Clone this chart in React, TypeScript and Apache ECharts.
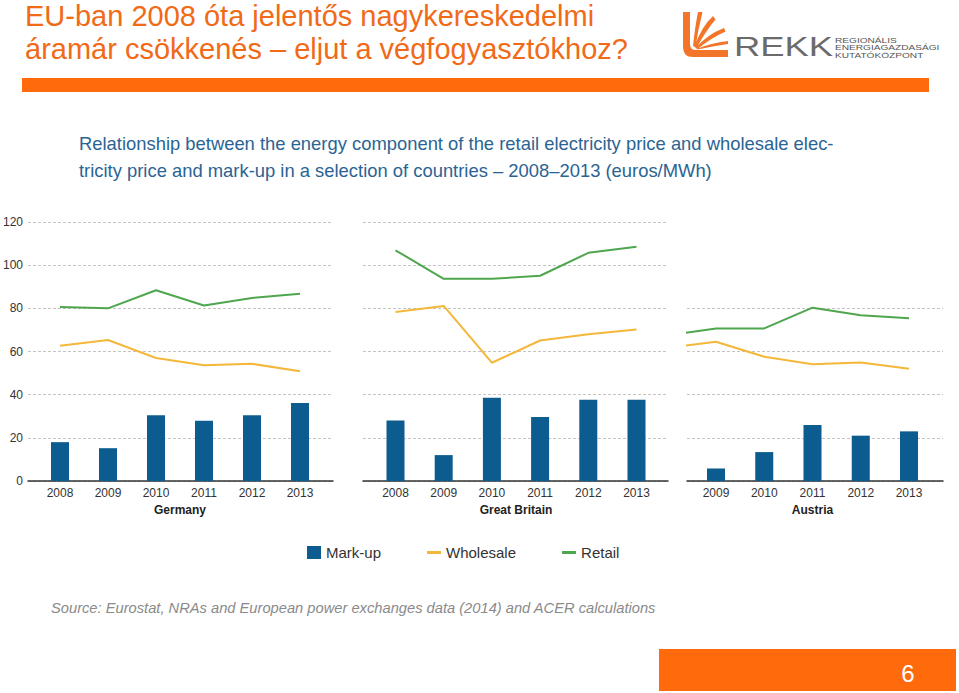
import React, { useEffect, useRef } from "react";
import * as echarts from "echarts";

// ---------- data ----------
const germanyYears = ["2008", "2009", "2010", "2011", "2012", "2013"];
const germanyMarkup = [18.0, 15.2, 30.5, 27.9, 30.5, 36.1];
const germanyWholesale = [62.7, 65.3, 57.0, 53.6, 54.3, 50.8];
const germanyRetail = [80.6, 80.0, 88.4, 81.3, 84.8, 86.8];

const gbYears = ["2008", "2009", "2010", "2011", "2012", "2013"];
const gbMarkup = [28.0, 12.0, 38.6, 29.6, 37.7, 37.7];
const gbWholesale = [78.3, 81.1, 54.8, 65.1, 68.0, 70.2];
const gbRetail = [106.9, 93.7, 93.7, 95.1, 105.7, 108.5];

const austriaYears = ["2009", "2010", "2011", "2012", "2013"];
const austriaMarkup = [5.8, 13.4, 25.9, 21.0, 23.0];
const austriaLineYears = ["2008", "2009", "2010", "2011", "2012", "2013"];
const austriaWholesale = [61.8, 64.5, 57.6, 54.1, 54.9, 52.0];
const austriaRetail = [67.4, 70.7, 70.7, 80.3, 76.8, 75.4];

const yTicks = ["0", "20", "40", "60", "80", "100", "120"];
const legendNames = ["Mark-up", "Wholesale", "Retail"];

const pageTitle1 = "EU-ban 2008 óta jelentős nagykereskedelmi";
const pageTitle2 = "áramár csökkenés – eljut a végfogyasztókhoz?";
const chartTitle1 =
  "Relationship between the energy component of the retail electricity price and wholesale elec-";
const chartTitle2 =
  "tricity price and mark-up in a selection of countries – 2008–2013 (euros/MWh)";
const sourceText =
  "Source: Eurostat, NRAs and European power exchanges data (2014) and ACER calculations";
const pageNumber = "6";
const logoWord = "REKK";
const logoLines = ["REGIONÁLIS", "ENERGIAGAZDASÁGI", "KUTATÓKÖZPONT"];

// ---------- styles / layout ----------
const COLORS = { markup: "#0d5c8f", wholesale: "#f4b73a", retail: "#4ea64e" };
const FONT = "'Liberation Sans', Arial, sans-serif";
const ORANGE = "#ff6a0d";

const PLOT_TOP = 222;
const PLOT_BOTTOM = 481;
const Y_MAX = 120;

const panels = [
  {
    name: "Germany",
    barYears: germanyYears,
    markup: germanyMarkup,
    lineYears: germanyYears,
    wholesale: germanyWholesale,
    retail: germanyRetail,
    frameL: 28, frameR: 333, firstCenter: 60, step: 48, yMax: 120, showY: true,
  },
  {
    name: "Great Britain",
    barYears: gbYears,
    markup: gbMarkup,
    lineYears: gbYears,
    wholesale: gbWholesale,
    retail: gbRetail,
    frameL: 363, frameR: 668, firstCenter: 395.5, step: 48.2, yMax: 120, showY: false,
  },
  {
    name: "Austria",
    barYears: austriaYears,
    markup: austriaMarkup,
    lineYears: austriaLineYears,
    wholesale: austriaWholesale,
    retail: austriaRetail,
    frameL: 687, frameR: 943, firstCenter: 716, step: 48.25, yMax: 80, showY: false,
  },
];

let registered = false;
function registerLogo() {
  if (registered) return;
  registered = true;
  const d =
    "M0,0 L7,0 L7,32 Q7,38 13,38 L45,38 L45,45 L10,45 Q0,45 0,35 Z " +
    "M10,34 Q12,15 15,0 L19.5,0 Q15,18 12.5,35 Z " +
    "M11.5,35 Q18,15 30,4 L32.5,7.5 Q22,20 13.5,36 Z " +
    "M12.5,36 Q25,22 41,16 L42.5,19.5 Q28,26 14.5,37 Z " +
    "M13.5,37 Q28,31 45,29 L45,32 Q30,34 14.5,37.6 Z";
  echarts.graphic.registerShape("rekklogo", echarts.graphic.extendPath(d, {}));
}

function buildOption() {
  const grid: any[] = [];
  const xAxis: any[] = [];
  const yAxis: any[] = [];
  const series: any[] = [];

  panels.forEach((p) => {
    const plotH = PLOT_BOTTOM - PLOT_TOP;
    const frameTop = PLOT_BOTTOM - (plotH * p.yMax) / Y_MAX;
    const width = p.frameR - p.frameL;
    const firstYear = Number(p.barYears[0]);
    const xMin = firstYear - (p.firstCenter - p.frameL) / p.step;
    const xMax =
      Number(p.barYears[p.barYears.length - 1]) +
      (p.frameR - (p.firstCenter + (p.barYears.length - 1) * p.step)) / p.step;

    // frame grid (gridlines, baseline, y labels)
    const fi = grid.length;
    grid.push({ left: p.frameL, width, top: frameTop, height: PLOT_BOTTOM - frameTop });
    xAxis.push({
      gridIndex: fi, type: "value", min: 0, max: 1,
      axisLine: { show: true, onZero: false, lineStyle: { color: "#333", width: 1.5 } },
      axisTick: { show: false }, axisLabel: { show: false }, splitLine: { show: false },
    });
    yAxis.push({
      gridIndex: fi, type: "value", min: 0, max: p.yMax, interval: 20,
      axisLine: { show: false }, axisTick: { show: false },
      axisLabel: {
        show: p.showY, margin: 5, color: "#333", fontSize: 12, fontFamily: FONT,
        formatter: (v: number) => yTicks[Math.round(v / 20)] ?? String(v),
      },
      splitLine: { show: true, lineStyle: { color: "#c4c4c4", type: [3, 2], width: 1 } },
    });

    // data grid
    const di = grid.length;
    grid.push({ left: p.frameL, width, top: PLOT_TOP, height: plotH });
    xAxis.push({ gridIndex: di, type: "value", min: xMin, max: xMax, show: false });
    yAxis.push({ gridIndex: di, type: "value", min: 0, max: Y_MAX, show: false });

    series.push({
      type: "bar", name: "Mark-up", xAxisIndex: di, yAxisIndex: di, barWidth: 18,
      itemStyle: { color: COLORS.markup },
      data: p.barYears.map((y, k) => [Number(y), p.markup[k]]),
    });
    series.push({
      type: "line", name: "Wholesale", xAxisIndex: di, yAxisIndex: di, symbol: "none",
      lineStyle: { color: COLORS.wholesale, width: 2 }, itemStyle: { color: COLORS.wholesale },
      data: p.lineYears.map((y, k) => [Number(y), p.wholesale[k]]),
    });
    series.push({
      type: "line", name: "Retail", xAxisIndex: di, yAxisIndex: di, symbol: "none",
      lineStyle: { color: COLORS.retail, width: 2 }, itemStyle: { color: COLORS.retail },
      data: p.lineYears.map((y, k) => [Number(y), p.retail[k]]),
    });

    // label grid (category labels + country name)
    const li = grid.length;
    grid.push({
      left: p.firstCenter - p.step / 2, width: p.step * p.barYears.length,
      top: PLOT_TOP, height: plotH,
    });
    xAxis.push({
      gridIndex: li, type: "category", data: p.barYears,
      axisLine: { show: false }, axisTick: { show: false },
      axisLabel: { margin: 6, color: "#333", fontSize: 12, fontFamily: FONT },
      name: p.name, nameLocation: "middle", nameGap: 23,
      nameTextStyle: { color: "#222", fontSize: 12, fontWeight: "bold", fontFamily: FONT },
    });
    yAxis.push({ gridIndex: li, type: "value", min: 0, max: 1, show: false });
  });

  const lineIcon = "path://M0,0 H14 V3 H0 Z";

  const graphic: any[] = [
    { type: "text", x: 25, y: 16, style: { text: pageTitle1, font: `29px ${FONT}`, fill: "#f06a18", verticalAlign: "middle" } },
    { type: "text", x: 25, y: 49, style: { text: pageTitle2, font: `29px ${FONT}`, fill: "#f06a18", verticalAlign: "middle" } },
    { type: "rect", shape: { x: 22, y: 78, width: 907, height: 14 }, style: { fill: ORANGE } },
    { type: "rekklogo", x: 683, y: 12, style: { fill: "#f2752a" } },
    { type: "text", x: 734, y: 47, scaleX: 1.3, originX: 0, originY: 0, style: { text: logoWord, font: `28px ${FONT}`, fill: "#6b6b6b", verticalAlign: "middle" } },
    ...logoLines.map((t, k) => ({
      type: "text", x: 835, y: 40 + k * 7.5, scaleX: 1.35, originX: 0, originY: 0,
      style: { text: t, font: `7.5px ${FONT}`, fill: "#555", verticalAlign: "middle" },
    })),
    { type: "text", x: 79, y: 143, style: { text: chartTitle1, font: `18.4px ${FONT}`, fill: "#2a6494", verticalAlign: "middle" } },
    { type: "text", x: 79, y: 170, style: { text: chartTitle2, font: `18.4px ${FONT}`, fill: "#2a6494", verticalAlign: "middle" } },
    { type: "text", x: 51, y: 608, style: { text: sourceText, font: `italic 14.7px ${FONT}`, fill: "#8a8a8a", verticalAlign: "middle" } },
    { type: "rect", shape: { x: 659, y: 649, width: 297, height: 42 }, style: { fill: ORANGE } },
    { type: "text", x: 908, y: 673, style: { text: pageNumber, font: `24px ${FONT}`, fill: "#fff", align: "center", verticalAlign: "middle" } },
  ];

  return {
    animation: false,
    backgroundColor: "#fff",
    grid,
    xAxis,
    yAxis,
    series,
    legend: {
      data: [
        { name: legendNames[0], icon: "rect" },
        { name: legendNames[1], icon: lineIcon },
        { name: legendNames[2], icon: lineIcon },
      ],
      left: 302, top: 540, itemWidth: 14, itemHeight: 13, itemGap: 46,
      symbolKeepAspect: true,
      textStyle: { color: "#333", fontSize: 15, fontFamily: FONT },
      selectedMode: false,
    },
    graphic,
  };
}

export default function App() {
  const ref = useRef<HTMLDivElement>(null);
  useEffect(() => {
    if (!ref.current) return;
    registerLogo();
    const chart = echarts.init(ref.current, undefined, { renderer: "svg" });
    chart.setOption(buildOption() as any);
    return () => chart.dispose();
  }, []);
  return (
    <div
      ref={ref}
      style={{ position: "fixed", left: 0, top: 0, width: 959, height: 693, background: "#fff" }}
    />
  );
}
